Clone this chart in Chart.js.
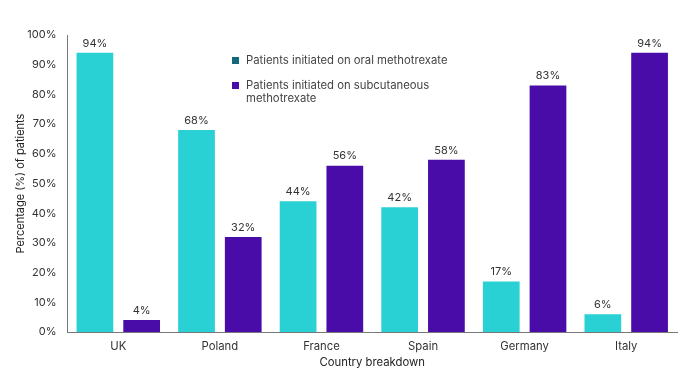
<!DOCTYPE html>
<html>
<head>
<meta charset="utf-8">
<script src="https://cdn.jsdelivr.net/npm/chart.js@4/dist/chart.umd.min.js"></script>
<style>
  html, body { margin: 0; padding: 0; background: #fff; }
  #wrap { position: relative; width: 689px; height: 381px; }
  #legend { position: absolute; left: 232px; top: 54px; font-family: Inter, "Noto Sans", sans-serif; font-size: 11.3px; color: #444; line-height: 13px; }
  .item { position: relative; padding-left: 14px; margin-bottom: 12px; }
  .sw { position: absolute; left: 0; top: 3px; width: 7px; height: 7px; }
</style>
</head>
<body>
<div id="wrap">
<canvas id="c" width="689" height="381"></canvas>
<div id="legend"></div>
</div>
<script>
const categories = ["UK", "Poland", "France", "Spain", "Germany", "Italy"];
const oralValues = [94, 68, 44, 42, 17, 6];
const subcutValues = [4, 32, 56, 58, 83, 94];
const seriesNames = ["Patients initiated on oral methotrexate", "Patients initiated on subcutaneous methotrexate"];
const yTicks = [0, 10, 20, 30, 40, 50, 60, 70, 80, 90, 100];

const cyan = "#29D1D5";
const purple = "#4A0CA8";
const legendOral = "#13697A";

const font = "Inter, 'Noto Sans', sans-serif";

const legendEl = document.getElementById('legend');
legendEl.innerHTML =
  '<div class="item"><span class="sw" style="background:' + legendOral + '"></span>' + seriesNames[0] + '</div>' +
  '<div class="item"><span class="sw" style="background:' + purple + '"></span>Patients initiated on subcutaneous<br>methotrexate</div>';

const labelPlugin = {
  id: 'valueLabels',
  afterDatasetsDraw(chart) {
    const ctx = chart.ctx;
    ctx.save();
    ctx.font = "11px " + font;
    ctx.fillStyle = "#333";
    ctx.textAlign = "center";
    ctx.textBaseline = "bottom";
    chart.data.datasets.forEach((ds, i) => {
      const meta = chart.getDatasetMeta(i);
      meta.data.forEach((bar, j) => {
        ctx.fillText(ds.data[j] + "%", bar.x, bar.y - 4);
      });
    });
    ctx.restore();
  }
};

new Chart(document.getElementById('c'), {
  type: 'bar',
  data: {
    labels: categories,
    datasets: [
      { label: seriesNames[0], data: oralValues, backgroundColor: cyan, categoryPercentage: 0.92, barPercentage: 0.786 },
      { label: seriesNames[1], data: subcutValues, backgroundColor: purple, categoryPercentage: 0.92, barPercentage: 0.786 }
    ]
  },
  options: {
    responsive: false,
    animation: false,
    layout: { padding: { top: 35, right: 12, left: 0, bottom: 0 } },
    plugins: { legend: { display: false }, tooltip: { enabled: false } },
    scales: {
      x: {
        afterFit(scale) { scale.height = 49; },
        grid: { display: false, drawTicks: false },
        border: { display: true, color: "#777" },
        ticks: { color: "#333", font: { family: font, size: 11.3 }, padding: 8 },
        title: { display: true, text: "Country breakdown", color: "#222", font: { family: font, size: 11.3 }, padding: { top: 0, bottom: 12 } }
      },
      y: {
        min: 0, max: 100,
        afterFit(scale) { scale.width = 67.5; },
        afterBuildTicks(axis) { axis.ticks = yTicks.map(v => ({ value: v })); },
        grid: { display: false, drawTicks: false },
        border: { display: true, color: "#777" },
        ticks: { color: "#333", font: { family: font, size: 11 }, padding: 11, callback: v => v + "%" },
        title: { display: true, text: "Percentage (%) of patients", color: "#222", font: { family: font, size: 11 }, padding: { top: 14, bottom: 0 } }
      }
    }
  },
  plugins: [labelPlugin]
});
</script>
</body>
</html>
